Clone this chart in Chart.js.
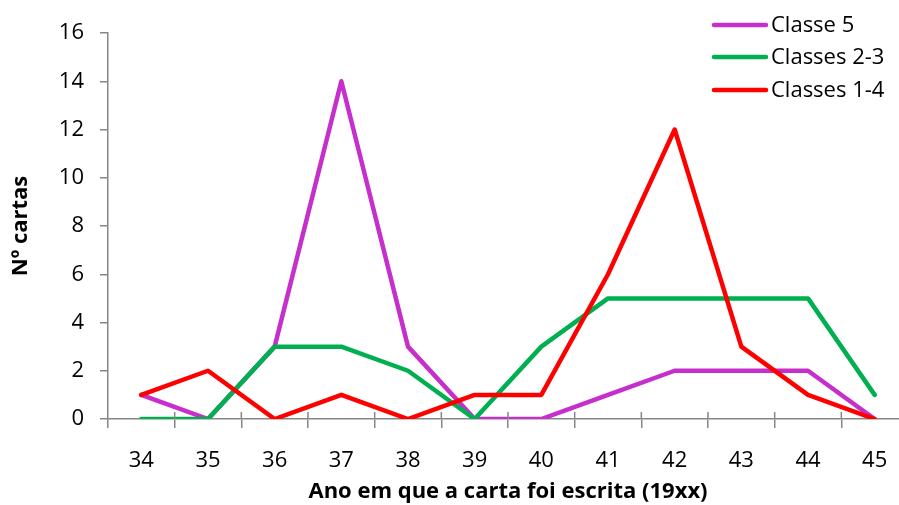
<!DOCTYPE html>
<html>
<head>
<meta charset="utf-8">
<script src="https://cdn.jsdelivr.net/npm/chart.js@4"></script>
<style>
  html, body { margin: 0; padding: 0; background: #fff; overflow: hidden; }
  #wrap { width: 940px; height: 505px; }
</style>
</head>
<body>
<div id="wrap"><canvas id="myChart"></canvas></div>
<script>
// values
var years = ['34', '35', '36', '37', '38', '39', '40', '41', '42', '43', '44', '45'];
var classe5 = [1, 0, 3, 14, 3, 0, 0, 1, 2, 2, 2, 0];
var classes23 = [0, 0, 3, 3, 2, 0, 3, 5, 5, 5, 5, 1];
var classes14 = [1, 2, 0, 1, 0, 1, 1, 6, 12, 3, 1, 0];
var seriesNames = ['Classe 5', 'Classes 2-3', 'Classes 1-4'];
var yTicks = [0, 2, 4, 6, 8, 10, 12, 14, 16];

var FONT = '"Open Sans", sans-serif';
var axisGrey = '#868686';

// legend drawn inside the plot, top right, like the original
var cornerLegend = {
    id: 'cornerLegend',
    afterDraw: function(chart) {
        var c = chart.ctx;
        var x0 = 714, x1 = 766, tx = 771;
        var rows = [25, 57, 90];
        c.save();
        c.font = '22px ' + FONT;
        c.textBaseline = 'middle';
        c.textAlign = 'left';
        chart.data.datasets.forEach(function(ds, i) {
            c.strokeStyle = ds.borderColor;
            c.lineWidth = 4.5;
            c.lineCap = 'round';
            c.beginPath();
            c.moveTo(x0, rows[i]);
            c.lineTo(x1, rows[i]);
            c.stroke();
            c.fillStyle = '#000';
            c.fillText(ds.label, tx, rows[i] + 1);
        });
        c.restore();
    }
};

// small upward part of the crossing x tick marks
var crossTicks = {
    id: 'crossTicks',
    afterDraw: function(chart) {
        var xs = chart.scales.x;
        var c = chart.ctx;
        var half = (xs.getPixelForTick(1) - xs.getPixelForTick(0)) / 2;
        c.save();
        c.strokeStyle = axisGrey;
        c.lineWidth = 1.5;
        for (var i = 1; i < years.length; i++) {
            var px = xs.getPixelForTick(i) - half;
            c.beginPath();
            c.moveTo(px, xs.top - 7);
            c.lineTo(px, xs.top);
            c.stroke();
        }
        c.restore();
    }
};

var ctx = document.getElementById('myChart').getContext('2d');
var myChart = new Chart(ctx, {
    type: 'line',
    data: {
        labels: years,
        datasets: [{
            label: seriesNames[0],
            data: classe5,
            borderColor: '#C62FCB',
            backgroundColor: '#C62FCB',
            order: 3
        },
        {
            label: seriesNames[1],
            data: classes23,
            borderColor: '#00B050',
            backgroundColor: '#00B050',
            order: 2
        },
        {
            label: seriesNames[2],
            data: classes14,
            borderColor: '#FF0000',
            backgroundColor: '#FF0000',
            order: 1
        }]
    },
    options: {
        responsive: true,
        maintainAspectRatio: false,
        animation: false,
        layout: {
            padding: { left: 0, right: 32, top: 33, bottom: 0 }
        },
        elements: {
            line: { borderWidth: 4.5, tension: 0, borderCapStyle: 'round', borderJoinStyle: 'round' },
            point: { radius: 0, hoverRadius: 0 }
        },
        plugins: {
            legend: { display: false },
            tooltip: { enabled: false }
        },
        scales: {
            x: {
                offset: true,
                grid: {
                    offset: true,
                    drawOnChartArea: false,
                    drawTicks: true,
                    tickLength: 9,
                    color: axisGrey,
                    lineWidth: 1.5
                },
                border: { color: axisGrey, width: 1.5 },
                ticks: {
                    color: '#000',
                    font: { family: FONT, size: 22 },
                    padding: 20,
                    maxRotation: 0
                },
                title: {
                    display: true,
                    text: 'Ano em que a carta foi escrita (19xx)',
                    color: '#000',
                    font: { family: FONT, size: 22, weight: 'bold' },
                    padding: { top: 0, bottom: 0 }
                },
                afterFit: function(scale) { scale.height = 86; }
            },
            y: {
                min: 0,
                max: 16,
                afterBuildTicks: function(scale) {
                    scale.ticks = yTicks.map(function(v) { return { value: v }; });
                },
                grid: {
                    drawOnChartArea: false,
                    drawTicks: true,
                    tickLength: 8,
                    color: axisGrey,
                    lineWidth: 1.5
                },
                border: { color: axisGrey, width: 1.5 },
                ticks: {
                    color: '#000',
                    font: { family: FONT, size: 22 },
                    padding: 16
                },
                title: {
                    display: true,
                    text: 'Nº cartas',
                    color: '#000',
                    font: { family: FONT, size: 22, weight: 'bold' },
                    padding: { top: 8, bottom: 0 }
                },
                afterFit: function(scale) { scale.width = 108; }
            }
        }
    },
    plugins: [cornerLegend, crossTicks]
});
</script>
</body>
</html>
